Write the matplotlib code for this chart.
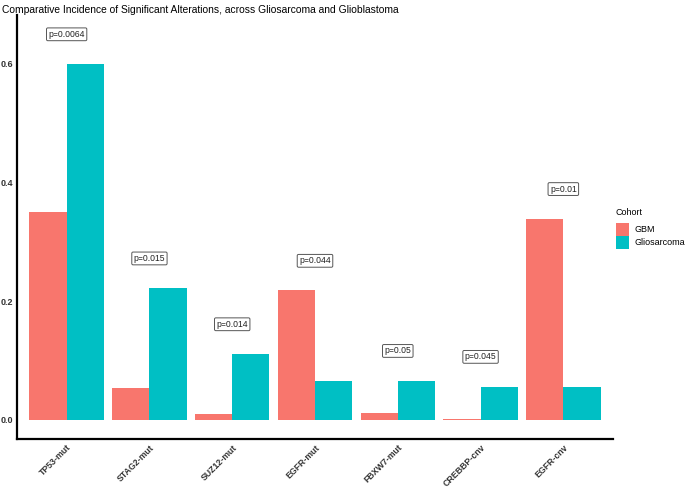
import numpy as np
import matplotlib.pyplot as plt

plt.rcParams['font.family'] = ['Liberation Sans', 'DejaVu Sans']

categories = ['TP53-mut', 'STAG2-mut', 'SUZ12-mut', 'EGFR-mut', 'FBXW7-mut', 'CREBBP-cnv', 'EGFR-cnv']
gbm = [0.350, 0.054, 0.010, 0.218, 0.011, 0.002, 0.339]
gliosarcoma = [0.600, 0.222, 0.111, 0.066, 0.066, 0.056, 0.056]
p_labels = ['p=0.0064', 'p=0.015', 'p=0.014', 'p=0.044', 'p=0.05', 'p=0.045', 'p=0.01']

GBM_COL = '#F8766D'
GS_COL = '#00BFC4'

fig = plt.figure(figsize=(6.85, 4.88), dpi=100)
ax = fig.add_axes([0.0248, 0.1004, 0.8701, 0.8688])

x = np.arange(1, len(categories) + 1)
w = 0.45
ax.bar(x - w / 2, gbm, width=w, color=GBM_COL, label='GBM')
ax.bar(x + w / 2, gliosarcoma, width=w, color=GS_COL, label='Gliosarcoma')

# p-value labels just above the taller bar
for xi, a, b, lab in zip(x, gbm, gliosarcoma, p_labels):
    ax.text(xi, max(a, b) + 0.05, lab, ha='center', va='center', fontsize=6.2,
            color='#222222',
            bbox=dict(boxstyle='round,pad=0.22,rounding_size=0.15', fc='white',
                      ec='#555555', lw=0.7))

ax.set_xlim(0.4, 7.6)
ax.set_ylim(-0.0325, 0.6825)
ax.set_xticks(x)
ax.set_xticklabels(categories, rotation=45, ha='right', va='top',
                   rotation_mode='anchor', fontsize=6.3, fontweight='bold',
                   color='#333333')
ax.set_yticks([0.0, 0.2, 0.4, 0.6])
ax.set_yticklabels(['0.0', '0.2', '0.4', '0.6'], fontsize=6.5, fontweight='bold',
                   color='#333333')
ax.tick_params(length=0, pad=3)
ax.tick_params(axis='x', pad=3)

for s in ['top', 'right']:
    ax.spines[s].set_visible(False)
for s in ['left', 'bottom']:
    ax.spines[s].set_linewidth(1.6)
    ax.spines[s].set_color('black')

fig.text(0.003, 0.99, 'Comparative Incidence of Significant Alterations, across Gliosarcoma and Glioblastoma',
         ha='left', va='top', fontsize=7.35)

leg = ax.legend(title='Cohort', loc='upper left',
                bbox_to_anchor=(616 / 685, 1 - 208 / 488),
                bbox_transform=fig.transFigure,
                frameon=False, fontsize=6.5, title_fontsize=6.5,
                handlelength=1.44, handleheight=1.84, handletextpad=0.66,
                labelspacing=0.0, borderpad=0.0, borderaxespad=0.0)
leg._legend_box.align = 'left'
leg._legend_box.sep = 4

fig.savefig('out.png', dpi=100)
